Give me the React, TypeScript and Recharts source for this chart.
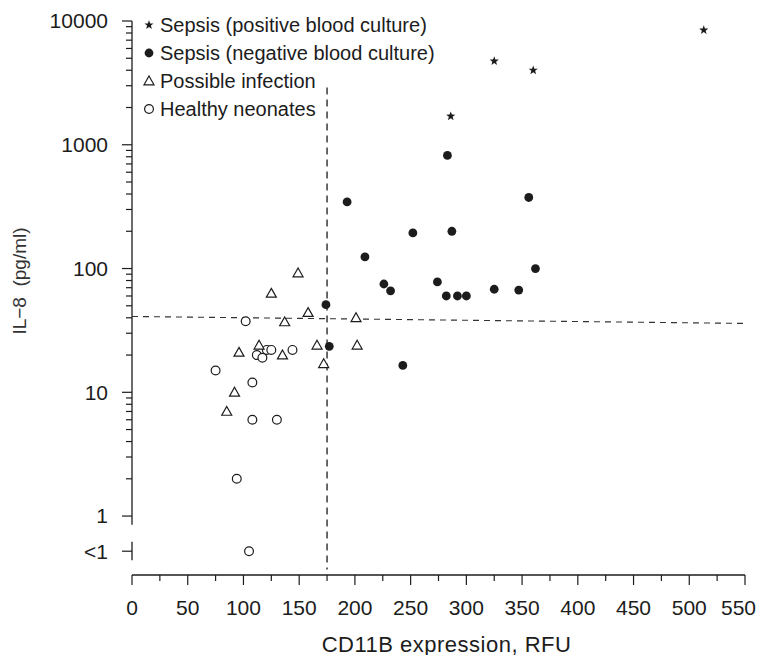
import { ReferenceLine, Scatter, ScatterChart, XAxis, YAxis } from 'recharts'

// x = CD11b expression (RFU), y = IL-8 (pg/ml), log scale
const LESS_THAN_ONE = 0.52 // plotting position of the "<1" row

const POSITIVE_CULTURE_X = [325, 360, 286, 513]
const POSITIVE_CULTURE_Y = [4750, 4000, 1700, 8450]

const NEGATIVE_CULTURE_X = [283, 193, 356, 252, 287, 209, 362, 226, 232, 274, 282, 292, 300, 325, 347, 174, 177, 243]
const NEGATIVE_CULTURE_Y = [820, 345, 375, 194, 200, 124, 100, 75, 66, 78, 60, 60, 60, 68, 67, 51, 23.5, 16.5]

const POSSIBLE_INFECTION_X = [149, 125, 158, 137, 201, 114, 96, 135, 166, 202, 172, 92, 85]
const POSSIBLE_INFECTION_Y = [92, 63, 44, 37, 40, 24, 21, 20, 24, 24, 17, 10, 7]

const HEALTHY_X = [102, 121, 125, 112, 117, 144, 75, 108, 108, 130, 94, 105]
const HEALTHY_Y = [37.5, 22, 22, 20, 19, 22, 15, 12, 6, 6, 2, LESS_THAN_ONE]

const X_TICKS = [0, 25, 50, 75, 100, 125, 150, 175, 200, 225, 250, 275, 300, 325, 350, 375, 400, 425, 450, 475, 500, 525, 550]
const X_LABELED = [0, 50, 100, 150, 200, 250, 300, 350, 400, 450, 500, 550]

const Y_MAJOR = [LESS_THAN_ONE, 1, 10, 100, 1000, 10000]
const Y_MAJOR_LABELS = ['<1', '1', '10', '100', '1000', '10000']
const Y_MINOR = [
  2, 3, 4, 5, 6, 7, 8, 9,
  20, 30, 40, 50, 60, 70, 80, 90,
  200, 300, 400, 500, 600, 700, 800, 900,
  2000, 3000, 4000, 5000, 6000, 7000, 8000, 9000,
]

// cut-offs
const CD11B_CUTOFF = 175
const IL8_CUTOFF_LEFT = 41
const IL8_CUTOFF_RIGHT = 36

const INK = '#1c1c1c'
const FONT = '"Liberation Sans", Arial, Helvetica, sans-serif'

const toPoints = (xs: number[], ys: number[]) => xs.map((x, i) => ({ x, y: ys[i] }))

function starPoints(cx: number, cy: number, outer: number, inner: number) {
  const pts: string[] = []
  for (let i = 0; i < 10; i++) {
    const r = i % 2 === 0 ? outer : inner
    const a = -Math.PI / 2 + (i * Math.PI) / 5
    pts.push(`${cx + r * Math.cos(a)},${cy + r * Math.sin(a)}`)
  }
  return pts.join(' ')
}

const StarMark = ({ cx, cy }: any) => <polygon points={starPoints(cx, cy, 4.8, 2.0)} fill={INK} />
const DotMark = ({ cx, cy }: any) => <circle cx={cx} cy={cy} r={4.4} fill={INK} />
const TriangleMark = ({ cx, cy }: any) => (
  <polygon
    points={`${cx},${cy - 5} ${cx + 5},${cy + 3.8} ${cx - 5},${cy + 3.8}`}
    fill="#fff"
    stroke={INK}
    strokeWidth={1.2}
  />
)
const RingMark = ({ cx, cy }: any) => (
  <circle cx={cx} cy={cy} r={4.4} fill="#fff" stroke={INK} strokeWidth={1.2} />
)

function XTick({ x, y, payload }: any) {
  const major = X_LABELED.includes(payload.value)
  const last = payload.value === X_LABELED[X_LABELED.length - 1]
  return (
    <g>
      <line x1={x} x2={x} y1={y} y2={y + (major ? 10 : 6)} stroke={INK} strokeWidth={1.2} />
      {major && (
        // the last label is right-aligned so it stays inside the frame
        <text
          x={last ? x + 11 : x}
          y={y + 33}
          dy="0.35em"
          textAnchor={last ? 'end' : 'middle'}
          fontSize={21}
          fill={INK}
          fontFamily={FONT}
        >
          {payload.value}
        </text>
      )}
    </g>
  )
}

function YTick({ x, y, payload }: any) {
  const idx = Y_MAJOR.indexOf(payload.value)
  const major = idx >= 0
  return (
    <g>
      <line x1={x - (major ? 10 : 6)} x2={x} y1={y} y2={y} stroke={INK} strokeWidth={1.2} />
      {major && (
        <text x={x - 24} y={y} dy="0.35em" textAnchor="end" fontSize={21} fill={INK} fontFamily={FONT}>
          {Y_MAJOR_LABELS[idx]}
        </text>
      )}
    </g>
  )
}

const XTitle = ({ viewBox }: any) => (
  <text
    x={viewBox.x + viewBox.width / 2 + 8}
    y={viewBox.y + 69}
    dy="0.35em"
    textAnchor="middle"
    fontSize={22}
    letterSpacing={0.5}
    fill={INK}
    fontFamily={FONT}
  >
    CD11B expression, RFU
  </text>
)

const YTitle = ({ viewBox }: any) => {
  const cx = viewBox.x + 19
  const cy = viewBox.y + viewBox.height / 2 - 17
  return (
    <text
      x={cx}
      y={cy}
      dy="0.35em"
      textAnchor="middle"
      transform={`rotate(-90 ${cx} ${cy})`}
      fontSize={19}
      fill="#333"
      fontFamily={FONT}
      xmlSpace="preserve"
    >
      IL−8  (pg/ml)
    </text>
  )
}

const LEGEND = [
  { label: 'Sepsis (positive blood culture)', Mark: StarMark },
  { label: 'Sepsis (negative blood culture)', Mark: DotMark },
  { label: 'Possible infection', Mark: TriangleMark },
  { label: 'Healthy neonates', Mark: RingMark },
]

export default function App() {
  return (
    <div style={{ position: 'relative', width: 764, height: 663, margin: -8, fontFamily: FONT }}>
      <ScatterChart width={764} height={663} margin={{ top: 21, right: 19, bottom: 0, left: 0 }}>
        <XAxis
          type="number"
          dataKey="x"
          domain={[0, 550]}
          ticks={X_TICKS}
          interval={0}
          tickSize={0}
          tickMargin={0}
          tickLine={false}
          tick={(p: any) => <XTick {...p} />}
          axisLine={{ stroke: INK, strokeWidth: 1.3 }}
          height={88}
          label={XTitle}
          allowDataOverflow
        />
        <YAxis
          type="number"
          dataKey="y"
          scale="log"
          domain={[0.334, 10000]}
          ticks={[...Y_MAJOR, ...Y_MINOR]}
          interval={0}
          tickSize={0}
          tickMargin={0}
          tickLine={false}
          tick={(p: any) => <YTick {...p} />}
          axisLine={false}
          width={132}
          label={YTitle}
          allowDataOverflow
        />
        {/* broken y axis: main part down to 1, short piece at <1 */}
        <ReferenceLine segment={[{ x: 0, y: 10000 }, { x: 0, y: 0.85 }]} stroke={INK} strokeWidth={1.3} />
        <ReferenceLine segment={[{ x: 0, y: 0.62 }, { x: 0, y: 0.44 }]} stroke={INK} strokeWidth={1.3} />
        <ReferenceLine
          segment={[{ x: CD11B_CUTOFF, y: 2900 }, { x: CD11B_CUTOFF, y: 0.37 }]}
          stroke={INK}
          strokeWidth={1.3}
          strokeDasharray="7 5"
        />
        <ReferenceLine
          segment={[{ x: 0, y: IL8_CUTOFF_LEFT }, { x: 550, y: IL8_CUTOFF_RIGHT }]}
          stroke="#333"
          strokeWidth={1.1}
          strokeDasharray="6 5"
        />
        <Scatter data={toPoints(HEALTHY_X, HEALTHY_Y)} shape={RingMark} isAnimationActive={false} />
        <Scatter data={toPoints(POSSIBLE_INFECTION_X, POSSIBLE_INFECTION_Y)} shape={TriangleMark} isAnimationActive={false} />
        <Scatter data={toPoints(NEGATIVE_CULTURE_X, NEGATIVE_CULTURE_Y)} shape={DotMark} isAnimationActive={false} />
        <Scatter data={toPoints(POSITIVE_CULTURE_X, POSITIVE_CULTURE_Y)} shape={StarMark} isAnimationActive={false} />
      </ScatterChart>
      <div style={{ position: 'absolute', left: 142, top: 11, fontSize: 20, color: INK }}>
        {LEGEND.map(({ label, Mark }) => (
          <div key={label} style={{ display: 'flex', alignItems: 'center', height: 28 }}>
            <svg width={14} height={14} style={{ marginRight: 4 }}>
              <Mark cx={7} cy={7} />
            </svg>
            <span>{label}</span>
          </div>
        ))}
      </div>
    </div>
  )
}
